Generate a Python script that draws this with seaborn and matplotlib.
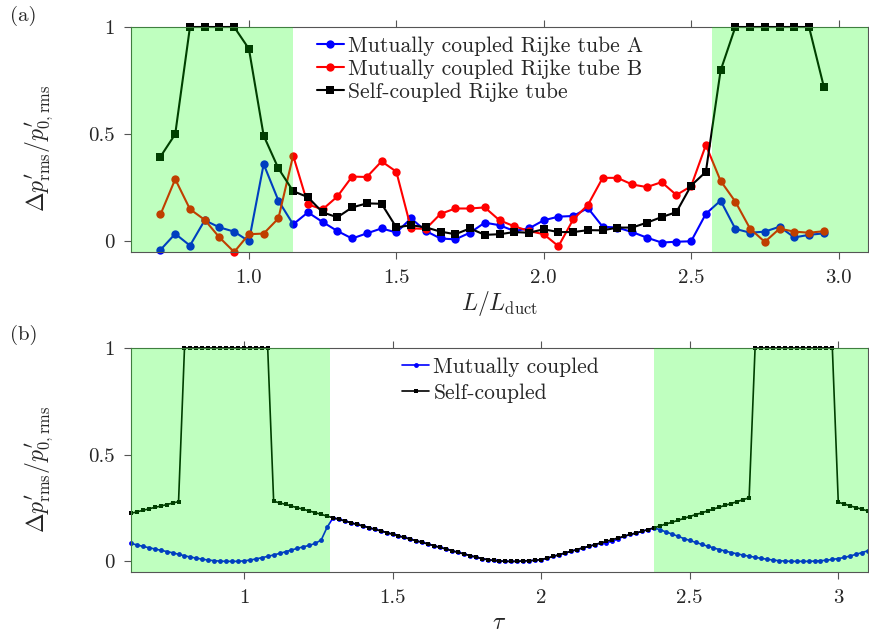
import numpy as np
import pandas as pd
import matplotlib
matplotlib.use("Agg")
import matplotlib.pyplot as plt
import seaborn as sns

# ---------------- data: panel (a) ----------------
L_ratio = np.round(np.arange(0.70, 2.951, 0.05), 2)
tube_A = [-0.04, 0.035, -0.02, 0.098, 0.065, 0.045, 0.0, 0.36, 0.19, 0.079,
          0.135, 0.09, 0.048, 0.013, 0.037, 0.06,
          0.041, 0.107, 0.048, 0.013, 0.009, 0.04, 0.087, 0.075, 0.048, 0.06,
          0.098, 0.115, 0.118, 0.155, 0.068, 0.064,
          0.043, 0.017, -0.006, -0.002, 0.0, 0.128, 0.19, 0.058, 0.04, 0.045,
          0.068, 0.018, 0.03, 0.037]
tube_B = [0.125, 0.29, 0.15, 0.10, 0.018, -0.05, 0.033, 0.036, 0.107, 0.40,
          0.172, 0.149, 0.209, 0.302, 0.30, 0.373,
          0.325, 0.06, 0.058, 0.128, 0.153, 0.153, 0.158, 0.098, 0.07, 0.048,
          0.033, -0.023, 0.102, 0.17, 0.296, 0.296,
          0.265, 0.253, 0.276, 0.216, 0.257, 0.449, 0.282, 0.185, 0.059, -0.003,
          0.059, 0.045, 0.04, 0.047]
self_a = [0.395, 0.50, 1.0, 1.0, 1.0, 1.0, 0.898, 0.493, 0.34, 0.234,
          0.206, 0.135, 0.112, 0.158, 0.177, 0.175,
          0.065, 0.075, 0.065, 0.045, 0.033, 0.06, 0.03, 0.033, 0.043, 0.04,
          0.056, 0.043, 0.043, 0.052, 0.051, 0.064,
          0.064, 0.087, 0.113, 0.136, 0.26, 0.324, 0.797, 1.0, 1.0, 1.0,
          1.0, 1.0, 1.0, 0.722]
green_a = [(0.60, 1.15), (2.57, 3.10)]

# ---------------- data: panel (b) ----------------
tau = np.round(np.arange(0.62, 3.101, 0.02), 2)
mutual_b = [0.084, 0.077, 0.070, 0.064, 0.058, 0.052, 0.046, 0.040, 0.033, 0.026,
            0.020, 0.015, 0.010, 0.006, 0.003, 0.001, 0.000, 0.000, 0.000, 0.002,
            0.006, 0.011, 0.017, 0.023, 0.030, 0.037, 0.045, 0.053, 0.061, 0.068,
            0.075, 0.084, 0.100, 0.160,
            0.204, 0.197, 0.189, 0.181, 0.173, 0.166, 0.158, 0.150, 0.143, 0.135,
            0.127, 0.119, 0.112, 0.104, 0.096, 0.089, 0.081, 0.073, 0.065, 0.058,
            0.050, 0.042, 0.035, 0.027, 0.020, 0.013, 0.008, 0.004, 0.002, 0.000,
            0.000, 0.000, 0.002, 0.003, 0.005, 0.008, 0.015, 0.023, 0.031, 0.039,
            0.047, 0.055, 0.063, 0.070, 0.078, 0.086, 0.088, 0.094, 0.106, 0.118,
            0.126, 0.133, 0.141, 0.149, 0.157,
            0.148, 0.138, 0.128, 0.118, 0.107, 0.098, 0.089, 0.080, 0.071, 0.063,
            0.055, 0.048, 0.041, 0.035, 0.029, 0.024, 0.019, 0.014, 0.010, 0.006,
            0.003, 0.001, 0.000, 0.000, 0.000, 0.000, 0.001, 0.003, 0.005, 0.009,
            0.013, 0.018, 0.025, 0.033, 0.041, 0.050]
self_b = [0.225, 0.232, 0.239, 0.246, 0.253, 0.259, 0.266, 0.273, 0.280,
          1.0, 1.0, 1.0, 1.0, 1.0, 1.0, 1.0, 1.0, 1.0, 1.0, 1.0, 1.0, 1.0, 1.0, 1.0,
          0.282, 0.274, 0.267, 0.259, 0.251, 0.244, 0.236, 0.228, 0.220, 0.212,
          0.204, 0.197, 0.189, 0.181, 0.173, 0.166, 0.158, 0.150, 0.143, 0.135,
          0.127, 0.119, 0.112, 0.104, 0.096, 0.089, 0.081, 0.073, 0.065, 0.058,
          0.050, 0.042, 0.035, 0.027, 0.020, 0.013, 0.008, 0.004, 0.002, 0.000,
          0.000, 0.000, 0.002, 0.003, 0.005, 0.008, 0.015, 0.023, 0.031, 0.039,
          0.047, 0.055, 0.063, 0.070, 0.078, 0.086, 0.094, 0.102, 0.110, 0.118,
          0.126, 0.133, 0.141, 0.149, 0.157, 0.166, 0.175, 0.183, 0.192, 0.201,
          0.210, 0.219, 0.227, 0.236, 0.245, 0.254, 0.263, 0.271, 0.280, 0.289,
          0.298,
          1.0, 1.0, 1.0, 1.0, 1.0, 1.0, 1.0, 1.0, 1.0, 1.0, 1.0, 1.0, 1.0, 1.0,
          0.277, 0.269, 0.260, 0.252, 0.244, 0.236]
green_b = [(0.62, 1.29), (2.38, 3.10)]

xticks_a = [1.0, 1.5, 2.0, 2.5, 3.0]
xticklabels_a = ["1.0", "1.5", "2.0", "2.5", "3.0"]
xticks_b = [1.0, 1.5, 2.0, 2.5, 3.0]
xticklabels_b = ["1", "1.5", "2", "2.5", "3"]
yticks = [0, 0.5, 1]
yticklabels = ["0", "0.5", "1"]

# ---------------- style ----------------
sns.set_style("ticks")
plt.rcParams["font.family"] = ["cmr10", "DejaVu Serif"]
plt.rcParams["mathtext.fontset"] = "cm"
plt.rcParams["axes.formatter.use_mathtext"] = True
plt.rcParams["axes.unicode_minus"] = False

fig = plt.figure(figsize=(8.7, 6.37), dpi=100)
axa = fig.add_axes([131 / 870, 1 - 252 / 637, 737 / 870, 225 / 637])
axb = fig.add_axes([131 / 870, 1 - 572 / 637, 737 / 870, 224 / 637])

frame_col = "#555555"
ylab = r"$\Delta p^{\prime}_{\mathrm{rms}}/p^{\prime}_{0,\mathrm{rms}}$"

# panel (a)
sns.lineplot(x=L_ratio, y=tube_A, ax=axa, color="#0000ff", marker="o", markersize=6,
             markeredgewidth=0, lw=1.5, clip_on=False, label="Mutually coupled Rijke tube A")
sns.lineplot(x=L_ratio, y=tube_B, ax=axa, color="#ff0000", marker="o", markersize=6,
             markeredgewidth=0, lw=1.5, clip_on=False, label="Mutually coupled Rijke tube B")
sns.lineplot(x=L_ratio, y=self_a, ax=axa, color="#000000", marker="s", markersize=6,
             markeredgewidth=0, lw=1.5, clip_on=False, label="Self-coupled Rijke tube")
for a, b in green_a:
    axa.axvspan(a, b, color=(0, 1, 0), alpha=0.25, lw=0, zorder=3)
axa.set_xlim(0.60, 3.10)
axa.set_ylim(-0.05, 1.0)
axa.set_xticks(xticks_a)
axa.set_xticklabels(xticklabels_a)
axa.set_xlabel(r"$L/L_{\rm duct}$", fontsize=17, labelpad=2)
leg = axa.legend(loc="upper left", bbox_to_anchor=(0.252, 0.958), frameon=False,
                 fontsize=15.5, handlelength=1.25, handletextpad=0.2, labelspacing=0.16,
                 borderaxespad=0, borderpad=0)
leg.set_zorder(10)

# panel (b)
sns.lineplot(x=tau, y=mutual_b, ax=axb, color="#0000ff", marker="o", markersize=3.5,
             markeredgewidth=0, lw=1.2, clip_on=False, label="Mutually coupled")
sns.lineplot(x=tau, y=self_b, ax=axb, color="#000000", marker="s", markersize=3.5,
             markeredgewidth=0, lw=1.2, clip_on=False, label="Self-coupled")
for a, b in green_b:
    axb.axvspan(a, b, color=(0, 1, 0), alpha=0.25, lw=0, zorder=3)
axb.set_xlim(0.62, 3.10)
axb.set_ylim(-0.05, 1.0)
axb.set_xticks(xticks_b)
axb.set_xticklabels(xticklabels_b)
axb.set_xlabel(r"$\tau$", fontsize=17, labelpad=4)
leg = axb.legend(loc="upper left", bbox_to_anchor=(0.368, 0.958), frameon=False,
                 fontsize=15.5, handlelength=1.25, handletextpad=0.2, labelspacing=0.3,
                 borderaxespad=0, borderpad=0)
leg.set_zorder(10)

for ax in (axa, axb):
    ax.set_yticks(yticks)
    ax.set_yticklabels(yticklabels)
    ax.set_ylabel(ylab, fontsize=17)
    ax.yaxis.set_label_coords(-0.103, 0.46)
    ax.tick_params(direction="out", top=True, right=True, length=5, width=0.8,
                   color=frame_col, labelsize=15, pad=7)
    for s in ax.spines.values():
        s.set_color(frame_col)
        s.set_linewidth(0.8)
    ax.grid(False)

fig.text(10 / 870, 1 - 16 / 637, "(a)", fontsize=15, va="center", ha="left")
fig.text(10 / 870, 1 - 335 / 637, "(b)", fontsize=15, va="center", ha="left",
         fontweight="bold")

fig.savefig("out.png", dpi=100)
